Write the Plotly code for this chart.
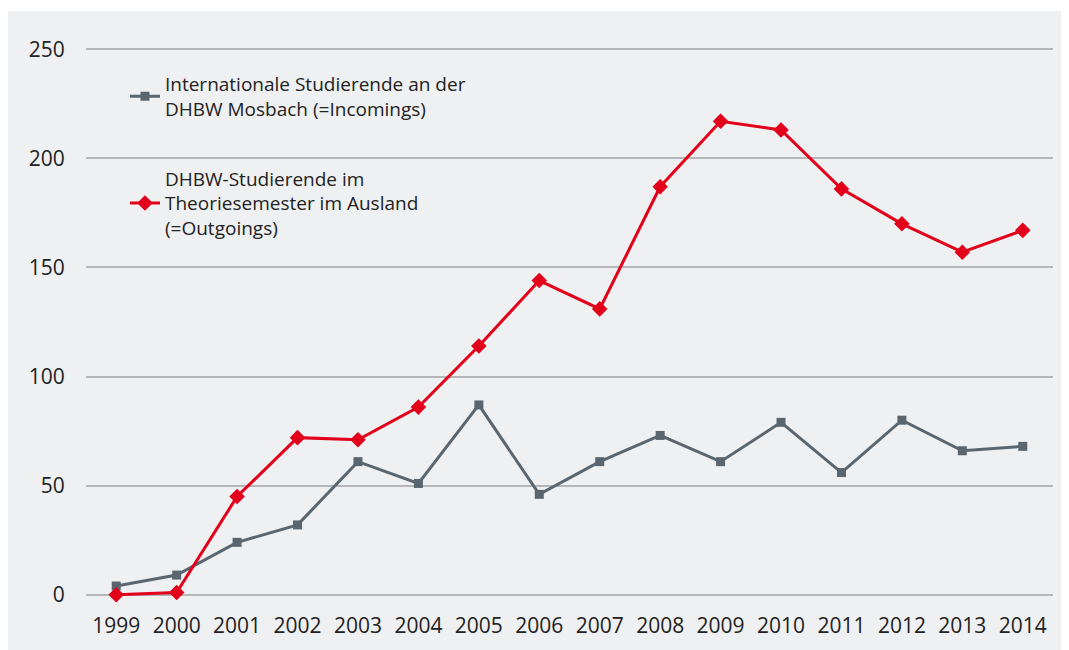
import plotly.graph_objects as go

years = [str(y) for y in range(1999, 2015)]
incomings = [4, 9, 24, 32, 61, 51, 87, 46, 61, 73, 61, 79, 56, 80, 66, 68]
outgoings = [0, 1, 45, 72, 71, 86, 114, 144, 131, 187, 217, 213, 186, 170, 157, 167]
y_ticks = [0, 50, 100, 150, 200, 250]

name_in = "Internationale Studierende an der<br>DHBW Mosbach (=Incomings)"
name_out = "DHBW-Studierende im<br>Theoriesemester im Ausland<br>(=Outgoings)"

GRAY = "#5a666f"
RED = "#e2001a"
BG = "#eff0f2"

fig = go.Figure()
fig.add_trace(go.Scatter(
    x=years, y=incomings, name=name_in, mode="lines+markers",
    line=dict(color=GRAY, width=3), marker=dict(symbol="square", size=9, color=GRAY),
    legendgroup="a", cliponaxis=False))
fig.add_trace(go.Scatter(
    x=years, y=outgoings, name=name_out, mode="lines+markers",
    line=dict(color=RED, width=3), marker=dict(symbol="diamond", size=12, color=RED),
    legendgroup="b", cliponaxis=False))

# plot area: 546px for 250 units -> 2.184 px/unit; pad 1.5 units each side (~3.3px)
fig.update_layout(
    width=1061, height=642,
    margin=dict(l=78, r=16, t=38, b=52),
    paper_bgcolor=BG, plot_bgcolor=BG,
    font=dict(family="Open Sans", color="#222222"),
    showlegend=True,
    legend=dict(x=0.0403, y=0.9655, xanchor="left", yanchor="top",
                bgcolor="rgba(0,0,0,0)", font=dict(size=19, color="#222222"),
                traceorder="grouped", tracegroupgap=42),
    shapes=[dict(type="rect", xref="paper", yref="paper", x0=-0.2, x1=1.2,
                 y0=1.0633, y1=1.2, fillcolor="white", line=dict(width=0), layer="below")],
    xaxis=dict(type="category", range=[-0.5, 15.5], showgrid=False, zeroline=False,
               showline=False, tickfont=dict(size=21), ticks="outside", ticklen=9,
               tickcolor="rgba(0,0,0,0)", automargin=False),
    yaxis=dict(range=[-1.5, 251.5], tickvals=y_ticks, showgrid=True, gridcolor="#b4b6b9",
               gridwidth=2, zeroline=False, showline=False, tickfont=dict(size=21),
               ticks="outside", ticklen=16, tickcolor="rgba(0,0,0,0)", automargin=False),
)

fig.write_html("out.html")
